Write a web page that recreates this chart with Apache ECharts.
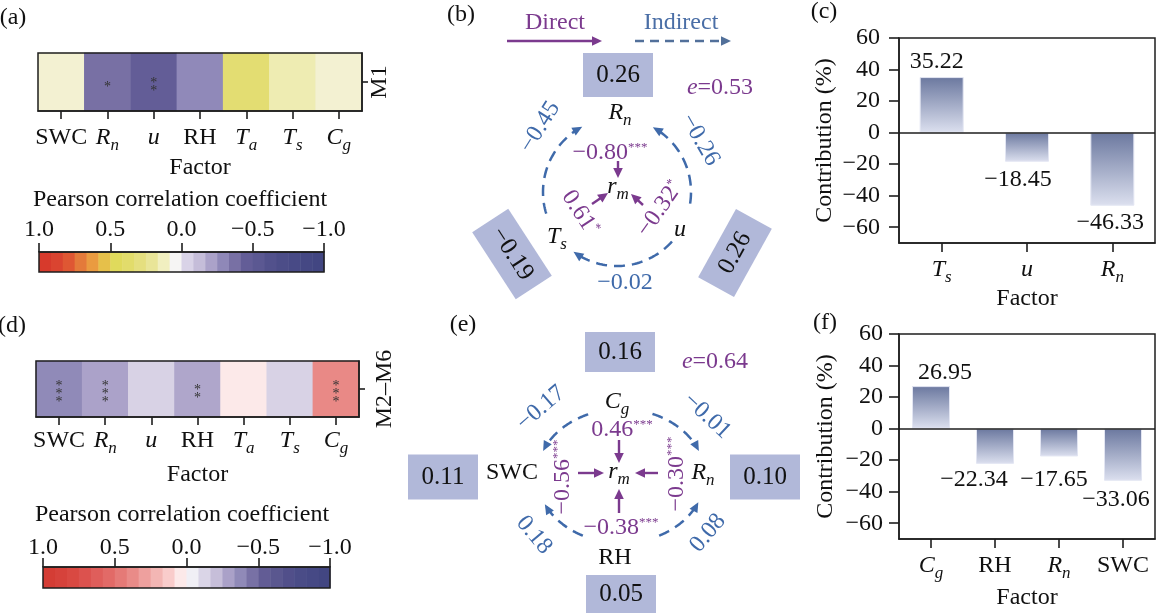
<!DOCTYPE html>
<html><head><meta charset="utf-8">
<script src="https://cdn.jsdelivr.net/npm/echarts@6/dist/echarts.min.js"></script>
<style>html,body{margin:0;padding:0;background:#fff}#c{width:1156px;height:614px}</style>
</head><body><div id="c"></div><script>
// ---------------- DATA ----------------
const factors = ['SWC','Rn','u','RH','Ta','Ts','Cg'];
const corrM1 = [0.10, -0.39, -0.48, -0.30, 0.36, 0.16, 0.10];
const sigM1 = ['', '*', '**', '', '', '', ''];
const corrM26 = [-0.39, -0.30, -0.14, -0.29, 0.04, -0.14, 0.40];
const sigM26 = ['***', '***', '', '**', '', '', '***'];
const rowM1 = ['M1'];
const rowM26 = ['M2\u2013M6'];
const scaleTicks = [1, 0.5, 0, -0.5, -1];
const paletteA = ['#d73a2c','#da4430','#df5733','#e47a3a','#ea9b40','#e6c04a','#e0da5c','#e2dc6b','#e5df7f','#e9e598','#f1efc0','#f6f5f4','#d9d3e7','#c5bdd9','#aba2c9','#8f88b8','#7870a4','#635d97','#5b5892','#52518c','#4c4d88','#484a86','#454884','#424682'];
const paletteD = ['#d43d35','#d6423b','#d94942','#dc524e','#df5e5b','#e26a67','#e57a77','#e98b88','#eea09e','#f3b6b4','#f9cccb','#fce9e9','#f0eff5','#dad5e7','#c6bed9','#aaa1c8','#908ab8','#7871a5','#625c95','#5a578f','#514f8a','#4a4c87','#464985','#424682'];
const barCatsC = ['Ts','u','Rn'];
const barValsC = [35.22, -18.45, -46.33];
const barCatsF = ['Cg','RH','Rn','SWC'];
const barValsF = [26.95, -22.34, -17.65, -33.06];
const yTicks = [-60, -40, -20, 0, 20, 40, 60];
// path diagram (b): nodes Rn, Ts, u
const nodesB = ['Rn','Ts','u'];
const directB = [-0.80, 0.61, -0.32];
const directSigB = ['***','*','*'];
const indirectB = [-0.45, -0.26, -0.02];   // Ts->Rn, u->Rn, u->Ts
const unexplB = [0.26, -0.19, 0.26];
const eB = 0.53;
// path diagram (e): nodes Cg, SWC, Rn, RH
const nodesE = ['Cg','SWC','Rn','RH'];
const directE = [0.46, -0.56, -0.30, -0.38];
const directSigE = ['***','***','***','***'];
const indirectE = [-0.17, -0.01, 0.18, 0.08]; // Cg->SWC, Cg->Rn, RH->SWC, RH->Rn
const unexplE = [0.16, 0.11, 0.10, 0.05];
const eE = 0.64;

// ---------------- STYLE ----------------
const F = '"Liberation Serif","Times New Roman",serif';
const TXT = '#111';
const purple = '#7b3a8e';
const blue = '#3f6aaa';
const boxFill = '#b1b8d9';
const LBL = {SWC:'{n|SWC}', RH:'{n|RH}', u:'{i|u}', Rn:'{i|R}{s|n}', Ta:'{i|T}{s|a}', Ts:'{i|T}{s|s}', Cg:'{i|C}{s|g}', rm:'{i|r}{s|m}'};
const fmt = v => (v < 0 ? '\u2212' : '') + Math.abs(v).toFixed(2);
const axRich = () => ({
  n:{fontFamily:F,fontSize:24,color:TXT,lineHeight:30},
  i:{fontFamily:F,fontSize:24,fontStyle:'italic',color:TXT,lineHeight:30},
  s:{fontFamily:F,fontSize:17,fontStyle:'italic',color:TXT,lineHeight:17,verticalAlign:'top',padding:[14,0,0,0]}
});
const LS = () => ({color:'#1e1e1e', width:1.5});
const TS = () => ({color:'#1e1e1e', width:1.6});
const nameStyle = () => ({fontFamily:F, fontSize:24, color:TXT});
const frame = g => Object.assign({show:true, borderColor:'#1e1e1e', borderWidth:1.5, backgroundColor:'transparent'}, g);

const option = {backgroundColor:'#fff', animation:false, grid:[], xAxis:[], yAxis:[], series:[], visualMap:[], graphic:{elements:[]}};

// ---------- heatmap panels (one x axis, one y axis per grid; grid border is the frame) ----------
function heatPanel(g, grid, rows, corr, sig, palette, opt) {
  option.grid.push(frame(grid));
  const xi = option.xAxis.length, yi = option.yAxis.length;
  option.xAxis.push({gridIndex:g, type:'category', data:factors, position:'bottom',
    axisLine:{show:true, onZero:false, lineStyle:LS()}, axisTick:{show:true, alignWithLabel:true, interval:0, length:8, lineStyle:TS()},
    axisLabel:{formatter:v=>LBL[v], rich:axRich(), margin:opt.lblMargin, interval:0},
    name:'Factor', nameLocation:'middle', nameGap:opt.nameGap, nameTextStyle:nameStyle()});
  option.yAxis.push({gridIndex:g, type:'category', data:rows, position:'right',
    axisLine:{show:true, onZero:false, lineStyle:LS()}, axisTick:{show:true, alignWithLabel:true, length:6, lineStyle:TS()},
    axisLabel:{rotate:90, fontFamily:F, fontSize:24, color:TXT, margin:opt.rowMargin}});
  const si = option.series.length;
  option.series.push({type:'heatmap', xAxisIndex:xi, yAxisIndex:yi, z:-1,
    data: corr.map((v,i)=>[i,0,v]),
    label:{show:true, formatter:p=>sig[p.dataIndex].split('').join('\n'), fontFamily:F, fontSize:14, lineHeight:8, color:'#333', offset:[0,5]},
    emphasis:{disabled:true}, itemStyle:{borderWidth:0}});
  option.visualMap.push({type:'continuous', show:false, seriesIndex:si, dimension:2, min:-1, max:1,
    inRange:{color: palette.slice().reverse()}});
}

function colorBar(g, grid, palette, margin) {
  option.grid.push(frame(grid));
  const xi = option.xAxis.length, yi = option.yAxis.length;
  option.xAxis.push({gridIndex:g, type:'value', min:-1, max:1, interval:0.5, inverse:true, position:'top',
    axisLine:{show:true, onZero:false, lineStyle:LS()}, axisTick:{show:true, inside:false, length:9, lineStyle:TS()}, splitLine:{show:false},
    axisLabel:{formatter:v=>(v<0?'\u2212':'')+Math.abs(v).toFixed(1), fontFamily:F, fontSize:24, color:TXT, margin:margin}});
  option.yAxis.push({gridIndex:g, type:'value', min:0, max:1, show:false});
  const n = palette.length;
  option.series.push({type:'custom', xAxisIndex:xi, yAxisIndex:yi, silent:true, z:-1,
    data: palette.map((c,i)=>[1-2*i/n, 1-2*(i+1)/n, i]),
    encode:{x:[0,1]},
    renderItem:(params, api)=>{
      const p1 = api.coord([api.value(0), 1]), p2 = api.coord([api.value(1), 0]);
      return {type:'rect', shape:{x:Math.min(p1[0],p2[0]), y:Math.min(p1[1],p2[1]), width:Math.abs(p2[0]-p1[0])+0.5, height:Math.abs(p2[1]-p1[1])},
        style:{fill: palette[api.value(2)]}};
    }});
}

function barPanel(g, grid, cats, vals, barW, labOff, labDist, yGap, nameGap, yMargin) {
  option.grid.push(frame(grid));
  const xi = option.xAxis.length, yi = option.yAxis.length;
  option.xAxis.push({gridIndex:g, type:'category', data:cats, position:'bottom',
    axisLine:{show:true, onZero:false, lineStyle:LS()}, axisTick:{show:true, alignWithLabel:true, interval:0, length:9, lineStyle:TS()},
    axisLabel:{formatter:v=>LBL[v], rich:axRich(), margin:12, interval:0},
    name:'Factor', nameLocation:'middle', nameGap:nameGap, nameTextStyle:nameStyle()});
  option.yAxis.push({gridIndex:g, type:'value', min:-70, max:60, position:'left',
    axisLine:{show:true, onZero:false, lineStyle:LS()},
    axisTick:{show:true, length:10, customValues:yTicks, lineStyle:TS()},
    axisLabel:{customValues:yTicks, formatter:v=>(v<0?'\u2212':'')+Math.abs(v), fontFamily:F, fontSize:24, color:TXT, margin:yMargin},
    splitLine:{show:false},
    name:'Contribution (%)', nameLocation:'middle', nameGap:yGap, nameRotate:90, nameTextStyle:nameStyle()});
  option.series.push({type:'bar', xAxisIndex:xi, yAxisIndex:yi, barWidth:barW, z:-1,
    data: vals.map((v,i)=>({value:v, label:{position: v>=0?'top':'bottom', offset:labOff[i], distance:labDist[i]}})),
    itemStyle:{color:new echarts.graphic.LinearGradient(0,0,0,1,[{offset:0,color:'#6b789f'},{offset:1,color:'#dce0ef'}]), borderColor:'#e2e5f2', borderWidth:1},
    label:{show:true, formatter:p=>fmt(p.value), fontFamily:F, fontSize:24, color:TXT},
    emphasis:{disabled:true},
    markLine:{silent:true, symbol:'none', label:{show:false}, lineStyle:{color:'#1e1e1e', width:1.6, type:'solid'}, data:[{yAxis:0}]}});
}

heatPanel(0, {left:38, top:53, width:324, height:58}, rowM1, corrM1, sigM1, paletteA, {lblMargin:12, nameGap:45, rowMargin:6});
colorBar(1, {left:39, top:252, width:285, height:20}, paletteA, 10);
barPanel(2, {left:899, top:38, width:256, height:205}, barCatsC, barValsC, 44, [[-5,0],[-9,0],[-2,0]], [3,6,5], 62, 42, 19);
heatPanel(3, {left:36, top:361, width:323, height:56}, rowM26, corrM26, sigM26, paletteD, {lblMargin:9, nameGap:46, rowMargin:14});
colorBar(4, {left:43, top:567, width:287, height:21}, paletteD, 7);
barPanel(5, {left:899, top:334, width:256, height:205}, barCatsF, barValsF, 38, [[14,0],[-21,0],[-5,0],[-7,0]], [1,4,11,7], 61, 47, 16);

// ---------------- graphic helpers ----------------
const G = option.graphic.elements;
const gRich = col => ({
  n:{fontFamily:F,fontSize:24,fill:col,color:col,lineHeight:30},
  b:{fontFamily:F,fontSize:25,fill:col,color:col,lineHeight:30},
  i:{fontFamily:F,fontSize:24,fontStyle:'italic',fill:col,color:col,lineHeight:30},
  s:{fontFamily:F,fontSize:17,fontStyle:'italic',fill:col,color:col,lineHeight:17,verticalAlign:'top',padding:[14,0,0,0]},
  st:{fontFamily:F,fontSize:13,fill:col,color:col,lineHeight:13,verticalAlign:'top',padding:[3,0,0,0]}
});
function txt(x, y, text, col, rot) {
  G.push({type:'text', z:60, x:x, y:y, rotation:(rot||0)*Math.PI/180,
    style:{text:text, x:0, y:0, align:'center', verticalAlign:'middle', textAlign:'center', textVerticalAlign:'middle',
      fontFamily:F, fontSize:24, fill:col, rich:gRich(col)}});
}
function head(x, y, ang, col, L, W) {
  L = L || 10; W = W || 4.8;
  const bx = x - L*Math.cos(ang), by = y - L*Math.sin(ang), nx = -Math.sin(ang)*W, ny = Math.cos(ang)*W;
  G.push({type:'polygon', z:50, shape:{points:[[x,y],[bx+nx,by+ny],[bx-nx,by-ny]]}, style:{fill:col}});
}
function straight(x1, y1, x2, y2, col, dash) {
  const a = Math.atan2(y2-y1, x2-x1);
  G.push({type:'line', z:50, shape:{x1:x1, y1:y1, x2:x2-7*Math.cos(a), y2:y2-7*Math.sin(a)},
    style:{stroke:col, lineWidth:2.4, lineDash:dash||null}});
  head(x2, y2, a, col);
}
function arcArrow(c, rx, ry, a0, a1, col) {
  const pts = [], n = 60;
  for (let k = 0; k <= n; k++) {
    const a = (a0 + (a1-a0)*k/n) * Math.PI/180;
    pts.push([c[0] + rx*Math.cos(a), c[1] - ry*Math.sin(a)]);
  }
  const e = pts[n], p = pts[n-2];
  const ang = Math.atan2(e[1]-p[1], e[0]-p[0]);
  G.push({type:'polyline', z:50, shape:{points:pts.slice(0, n-3)}, style:{stroke:col, lineWidth:2.5, lineDash:[11,7], fill:null}});
  head(e[0], e[1], ang, col, 10, 4.5);
}
function box(x, y, w, h, rot, val) {
  G.push({type:'rect', z:40, x:x, y:y, rotation:rot*Math.PI/180, shape:{x:-w/2, y:-h/2, width:w, height:h}, style:{fill:boxFill}});
  txt(x, y, '{b|' + fmt(val) + '}', TXT, rot);
}
const dtxt = (v, s) => '{n|' + fmt(v) + '}{st|' + s + '}';

// panel letters
txt(13, 18, '{n|(a)}', TXT); txt(461, 15, '{n|(b)}', TXT); txt(824, 12, '{n|(c)}', TXT);
txt(12, 326, '{n|(d)}', TXT); txt(463, 325, '{n|(e)}', TXT); txt(825, 323, '{n|(f)}', TXT);
// colorbar titles
txt(180, 200, '{n|Pearson correlation coefficient}', TXT);
txt(182, 515, '{n|Pearson correlation coefficient}', TXT);

// ---------------- panel (b) ----------------
txt(555, 23, '{n|Direct}', purple);
straight(507, 41, 602, 41, purple);
txt(681, 23, '{n|Indirect}', '#4a6ea6');
straight(635, 41, 731, 41, '#52709a', [9,6]);
const CB = [617, 192], RB = 74;
const labPosB = [[620,113],[557,237],[680,230]];
nodesB.forEach((nm,i)=>txt(labPosB[i][0], labPosB[i][1], LBL[nm], TXT));
txt(618, 187, LBL.rm, TXT);
const dirB = [
  {p:[618,161,618,178], l:[610,153], r:0},
  {p:[592,204,608,193], l:[580,213], r:-57},
  {p:[643,205,631,194], l:[660,209], r:55}];
dirB.forEach((d,i)=>{ straight(d.p[0],d.p[1],d.p[2],d.p[3],purple); txt(d.l[0], d.l[1], dtxt(directB[i], directSigB[i]), purple, d.r); });
const arcB = [
  {a0:197, a1:118, l:[540,127], r:58},
  {a0:-9, a1:61, l:[700,140], r:-60},
  {a0:-42, a1:-126, l:[625,283], r:0}];
arcB.forEach((a,i)=>{ arcArrow(CB, RB, RB, a.a0, a.a1, blue); txt(a.l[0], a.l[1], '{n|'+fmt(indirectB[i])+'}', blue, a.r); });
const boxB = [{c:[618,75], w:70, h:44, r:0}, {c:[512,254], w:80, h:43, r:-57}, {c:[735,253], w:78, h:41, r:61}];
boxB.forEach((b,i)=>box(b.c[0], b.c[1], b.w, b.h, b.r, unexplB[i]));
txt(720, 88, '{i|e}{n|=' + eB.toFixed(2) + '}', purple);

// ---------------- panel (e) ----------------
const CE = [621, 476], RXE = 84, RYE = 67;
const labPosE = [[617,402],[512,473],[703,473],[615,558]];
nodesE.forEach((nm,i)=>txt(labPosE[i][0], labPosE[i][1], LBL[nm], TXT));
txt(619, 472, LBL.rm, TXT);
const dirE = [
  {p:[619,440,619,463], l:[622,430], r:0},
  {p:[578,473,604,473], l:[563,477], r:90},
  {p:[658,473,635,473], l:[677,474], r:90},
  {p:[619,513,619,489], l:[621,528], r:0}];
dirE.forEach((d,i)=>{ straight(d.p[0],d.p[1],d.p[2],d.p[3],purple); txt(d.l[0], d.l[1], dtxt(directE[i], directSigE[i]), purple, d.r); });
const arcE = [
  {a0:113, a1:158, l:[541,408], r:41},
  {a0:68, a1:22, l:[707,416], r:-43},
  {a0:243, a1:205, l:[534,535], r:-50},
  {a0:297, a1:337, l:[708,533], r:50}];
arcE.forEach((a,i)=>{ arcArrow(CE, RXE, RYE, a.a0, a.a1, blue); txt(a.l[0], a.l[1], '{n|'+fmt(indirectE[i])+'}', blue, a.r); });
const boxE = [{c:[620,352], w:70, h:40}, {c:[443,477], w:70, h:45}, {c:[765,477], w:70, h:45}, {c:[621,594], w:70, h:38}];
boxE.forEach((b,i)=>box(b.c[0], b.c[1], b.w, b.h, 0, unexplE[i]));
txt(715, 362, '{i|e}{n|=' + eE.toFixed(2) + '}', purple);

const chart = echarts.init(document.getElementById('c'), null, {renderer:'canvas', width:1156, height:614});
chart.setOption(option);
</script></body></html>
